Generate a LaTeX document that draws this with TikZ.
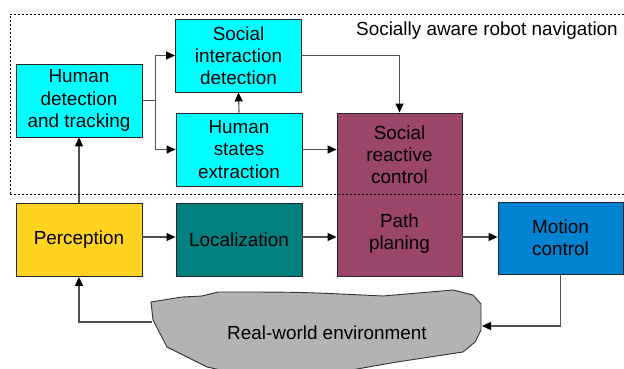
\documentclass[tikz,border=0pt]{standalone}
\usepackage{fontspec}
\setmainfont{Liberation Sans}
\usetikzlibrary{arrows.meta}
\definecolor{boxcyan}{HTML}{00FFFF}
\definecolor{boxyellow}{HTML}{FFD320}
\definecolor{boxteal}{HTML}{008080}
\definecolor{boxplum}{HTML}{9A4569}
\definecolor{boxblue}{HTML}{0084D1}
\definecolor{envgray}{HTML}{B3B3B3}
\definecolor{wire}{HTML}{505050}
\tikzset{
  block/.style={draw=black!85, line width=0.9pt, minimum width=126pt, minimum height=73pt,
    inner sep=2pt, align=center, font=\fontsize{18.9}{22.2}\selectfont},
  label/.style={align=center, inner sep=0pt, font=\fontsize{18.9}{22.2}\selectfont},
  link/.style={draw=wire, line width=1.1pt, -{Triangle[length=9pt,width=8pt,color=black]}},
  plain/.style={draw=wire, line width=1.1pt},
}
\begin{document}
\begin{tikzpicture}[x=1pt,y=-1pt]
\useasboundingbox (0,0) rectangle (624,369);

% upper blocks of the navigation layer
\node[block, fill=boxcyan] (hd)  at (79,100.5) {Human\\detection\\and tracking};
\node[block, fill=boxcyan] (sid) at (238.5,55.5) {Social\\interaction\\detection};
\node[block, fill=boxcyan] (hse) at (239,149.5) {Human\\states\\extraction};

% combined reactive control / path planning block
\node[block, fill=boxplum, minimum width=125pt, minimum height=163pt] (pp) at (399.5,194.5) {};
\node[label] (src) at (399.5,155) {Social\\reactive\\control};
\node[label] (pth) at (399.5,234) {Path\\planing};

% lower blocks
\node[block, fill=boxyellow] (perc) at (79,240) {Perception};
\node[block, fill=boxteal] (loc) at (239,239.5) {Localization};
\node[block, fill=boxblue, minimum width=125pt, minimum height=72pt] (mc) at (560.5,238) {Motion\\control};

% environment blob
\fill[envgray, draw=black!80, line width=0.9pt]
  (151,302) -- (182,297) -- (202,296) -- (218,292)
  .. controls (300,292) .. (383,296)
  -- (453,290) -- (473,295) -- (481,304) -- (481,330) -- (475,342) -- (463,352)
  -- (397,362) -- (340,372) -- (230,372) -- (207,367) -- (167,347) -- (153,320) -- cycle;
\node[label] (env) at (327,333) {Real-world environment};
\coordinate (envin)  at (482,326);
\coordinate (envout) at (152,322);
\coordinate (row) at (0,237);

% connectors
\draw[plain] (hd.east) -- ++(13,0) coordinate (fork);
\draw[link] (fork) |- (sid.west);
\draw[link] (fork) |- (hse.west);
\draw[link] (hse.north) -- (sid.south);
\draw[link] (sid.east) -| (pp.north);
\draw[link] (hse.east) -- (hse.east -| pp.west);
\draw[link] (perc.north) -- (hd.south);
\draw[link] (perc.east |- row) -- (loc.west |- row);
\draw[link] (loc.east |- row) -- (pp.west |- row);
\draw[link] (pp.east |- row) -- (mc.west |- row);
\draw[link] (mc.south) |- (envin);
\draw[link] (envout) -| (perc.south);

% boundary of the socially aware layer
\draw[black, line width=0.9pt, dash pattern=on 2pt off 2pt] (10,194) |- (640,14);
\draw[black, line width=0.9pt, dash pattern=on 2pt off 2pt] (10,194) -- (640,194);
\node[label, anchor=east] (title) at (618,31) {Socially aware robot navigation};
\end{tikzpicture}
\end{document}
